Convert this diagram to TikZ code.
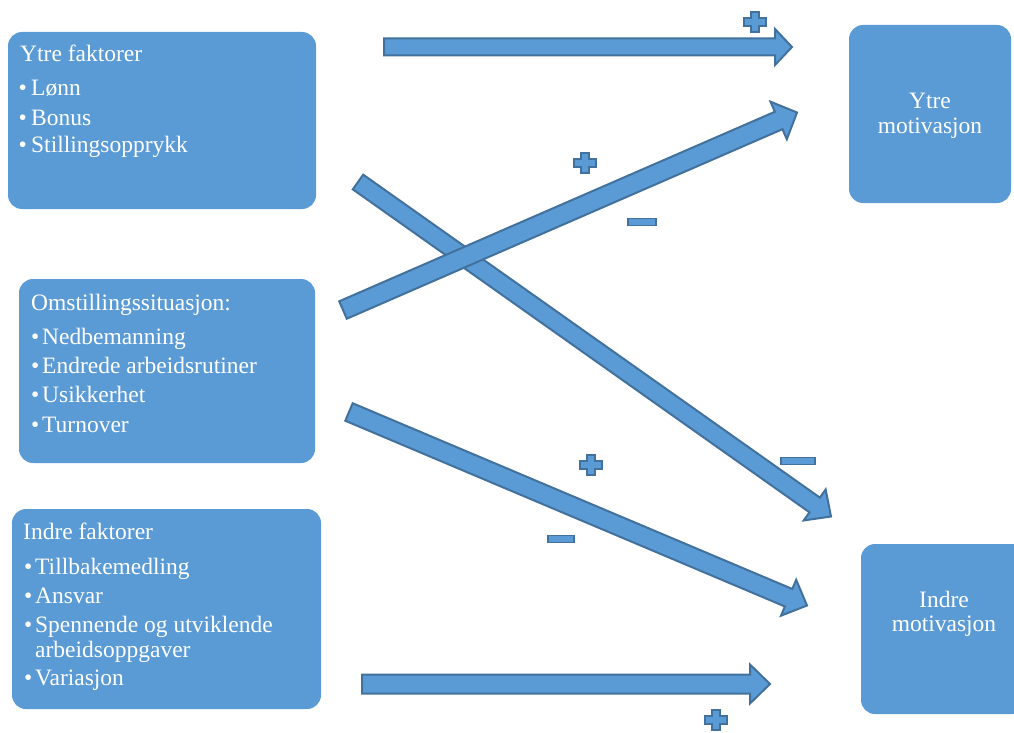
\documentclass[tikz,border=0pt]{standalone}
\usepackage{fontspec}
\setmainfont{Liberation Serif}
\usetikzlibrary{calc}
\definecolor{accfill}{RGB}{91,155,213}
\definecolor{accline}{RGB}{65,113,156}
\tikzset{
 box/.style={fill=accfill, draw=none, rounded corners=14pt, inner sep=0pt},
 txt/.style={text=white, font=\fontsize{23.5}{28}\selectfont, inner sep=0pt, anchor=base west},
 ctxt/.style={text=white, font=\fontsize{23.5}{28}\selectfont, inner sep=0pt, anchor=base},
 blockarrow/.style={fill=accfill, draw=accline, line width=2pt, line join=miter},
 sign/.style={fill=accfill, draw=accline, line width=1.8pt},
}
\newcommand\bul[1][11pt]{\makebox[#1][l]{•}}
\newcommand\blockarr[5]{%
  \path ($(#2)!#5!(#1)$) coordinate (hb);
  \filldraw[blockarrow] ($(#1)!#3!90:(#2)$) -- ($(hb)!#3!90:(#2)$) -- ($(hb)!#4!90:(#2)$) -- (#2)
    -- ($(hb)!#4!-90:(#2)$) -- ($(hb)!#3!-90:(#2)$) -- ($(#1)!#3!-90:(#2)$) -- cycle;}
\newcommand\plusmark[1]{\filldraw[sign,shift={(#1)}] (-4,-10) -- (4,-10) -- (4,-4) -- (11,-4) -- (11,4) -- (4,4) -- (4,10) -- (-4,10) -- (-4,4) -- (-11,4) -- (-11,-4) -- (-4,-4) -- cycle;}
\newcommand\minusmark[2]{\filldraw[sign,shift={(#1)}] (-#2,-3.5) rectangle (#2,3.5);}
\begin{document}
\begin{tikzpicture}[x=1pt,y=-1pt]
\useasboundingbox (0,0) rectangle (1014,733);
\clip (0,0) rectangle (1014,733);
% boxes
\node[box, minimum width=308pt, minimum height=177pt] (yf) at (162,120.5) {};
\node[box, minimum width=296pt, minimum height=184pt] (om) at (167,371) {};
\node[box, minimum width=309pt, minimum height=200pt] (inf) at (166.5,609) {};
\node[box, minimum width=162pt, minimum height=178pt] (ym) at (930,114) {};
\node[box, minimum width=166pt, minimum height=170pt] (im) at (944,629) {};
% texts box 1
\node[txt] (yf0) at (20,62) {Ytre faktorer};
\node[txt] (yf1) at (18.5,96) {\bul[12.5pt]Lønn};
\node[txt] (yf2) at (18.5,126) {\bul[12.5pt]Bonus};
\node[txt] (yf3) at (18.5,153) {\bul[12.5pt]Stillingsopprykk};
% texts box 2
\node[txt] (om0) at (31,310) {Omstillingssituasjon:};
\node[txt] (om1) at (31,344) {\bul Nedbemanning};
\node[txt] (om2) at (31,373) {\bul Endrede arbeidsrutiner};
\node[txt] (om3) at (31,402) {\bul Usikkerhet};
\node[txt] (om4) at (31,432) {\bul Turnover};
% texts box 3
\node[txt] (in0) at (23,539) {Indre faktorer};
\node[txt] (in1) at (24,574) {\bul Tillbakemedling};
\node[txt] (in2) at (24,603) {\bul Ansvar};
\node[txt] (in3) at (24,632) {\bul Spennende og utviklende};
\node[txt] (in4) at (35,657) {arbeidsoppgaver};
\node[txt] (in5) at (24,685) {\bul Variasjon};
% right boxes
\node[ctxt] (ym1) at (930,109) {Ytre};
\node[ctxt] (ym2) at (930,133) {motivasjon};
\node[ctxt] (im1) at (944,607) {Indre};
\node[ctxt] (im2) at (944,631) {motivasjon};
% arrows
\coordinate (a1s) at (384,47);  \coordinate (a1e) at (792,47);
\coordinate (a2s) at (343,310); \coordinate (a2e) at (797,112.5);
\coordinate (a3s) at (358,182); \coordinate (a3e) at (831,516.5);
\coordinate (a4s) at (349,412); \coordinate (a4e) at (807,605.5);
\coordinate (a5s) at (362,684); \coordinate (a5e) at (770,684);
\blockarr{a1s}{a1e}{8.5pt}{18pt}{17pt}
\blockarr{a3s}{a3e}{9pt}{19pt}{20pt}
\blockarr{a2s}{a2e}{9.5pt}{20.5pt}{20pt}
\blockarr{a4s}{a4e}{9.5pt}{19.5pt}{20pt}
\blockarr{a5s}{a5e}{9.5pt}{19.5pt}{20pt}
% signs
\plusmark{755,22}
\plusmark{585,163}
\minusmark{642,222}{14}
\plusmark{591,465}
\minusmark{798,461}{17}
\minusmark{561,539}{13}
\plusmark{716,720}
\end{tikzpicture}
\end{document}
